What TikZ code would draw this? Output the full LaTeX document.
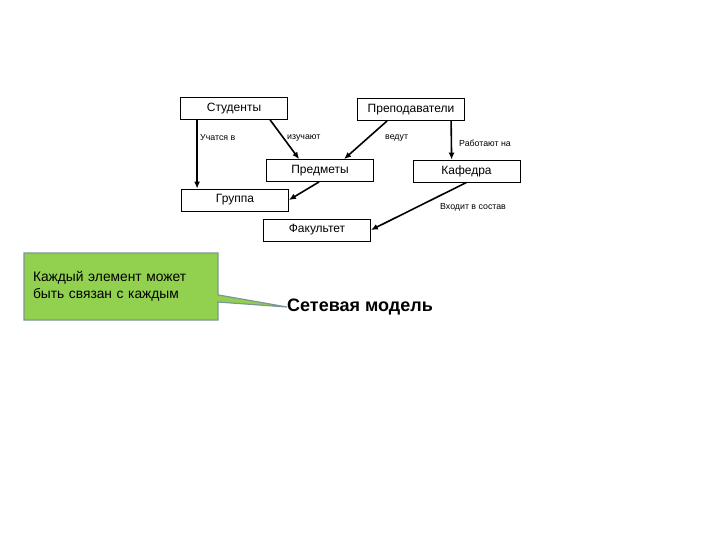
\documentclass[tikz,border=0pt]{standalone}
\usepackage{fontspec}
\setmainfont{Liberation Sans}
\usetikzlibrary{arrows.meta, positioning, shapes.callouts}

\definecolor{notefill}{RGB}{146,208,80}
\definecolor{noteline}{RGB}{125,150,150}

\begin{document}
\begin{tikzpicture}[
  x=1pt, y=-1pt,
  entity/.style={draw, line width=0.8pt, minimum width=107pt, minimum height=22pt, inner sep=0pt, font=\fontsize{12}{13}\selectfont},
  rel/.style={anchor=west, inner sep=0pt, font=\fontsize{8.8}{10}\selectfont},
  arrow/.style={-{Latex[length=7pt, width=6pt]}, line width=1.6pt},
]
\useasboundingbox (0,0) rectangle (720,540);

\node[entity] (stud) at (234,108.5) {Студенты};
\node[entity] (prep) at (411,109.5) {Преподаватели};
\node[entity] (pred) at (320,170.5) {Предметы};
\node[entity] (kaf) at (466.5,171) {Кафедра};
\node[entity] (grp) at (235,200) {Группа};
\node[entity] (fak) at (317,230) {Факультет};

\node[rel] (lstud) at (200,138) {Учатся в};
\node[rel] (lstudy) at (287,138) {изучают};
\node[rel] (lteach) at (385,138) {ведут};
\node[rel] (lwork) at (459,143) {Работают на};
\node[rel] (lpart) at (440,207) {Входит в состав};

\draw[arrow] ([xshift=17pt]stud.south west) -- ([xshift=16pt]grp.north west);
\draw[arrow] ([xshift=90pt]stud.south west) -- ([xshift=33pt]pred.north west);
\draw[arrow] ([xshift=30pt]prep.south west) -- ([xshift=78pt]pred.north west);
\draw[arrow] ([xshift=94pt]prep.south west) -- ([xshift=39pt]kaf.north west);
\draw[arrow] ([xshift=53pt]pred.south west) -- (grp.east);
\draw[arrow] ([xshift=54pt]kaf.south west) -- (fak.east);

% title and callout
\node[anchor=west, inner sep=0pt, font=\fontsize{18}{21}\selectfont\bfseries] (model) at (287,307) {Сетевая модель};
\node[rectangle callout, fill=notefill, draw=noteline, line width=1.2pt,
  text width=176pt, inner xsep=9pt, minimum height=67pt, align=left,
  font=\fontsize{13.8}{17}\selectfont, callout absolute pointer={(model.west)}]
  (note) at (121,286.5) {Каждый элемент может\\быть связан с каждым};
\end{tikzpicture}
\end{document}
